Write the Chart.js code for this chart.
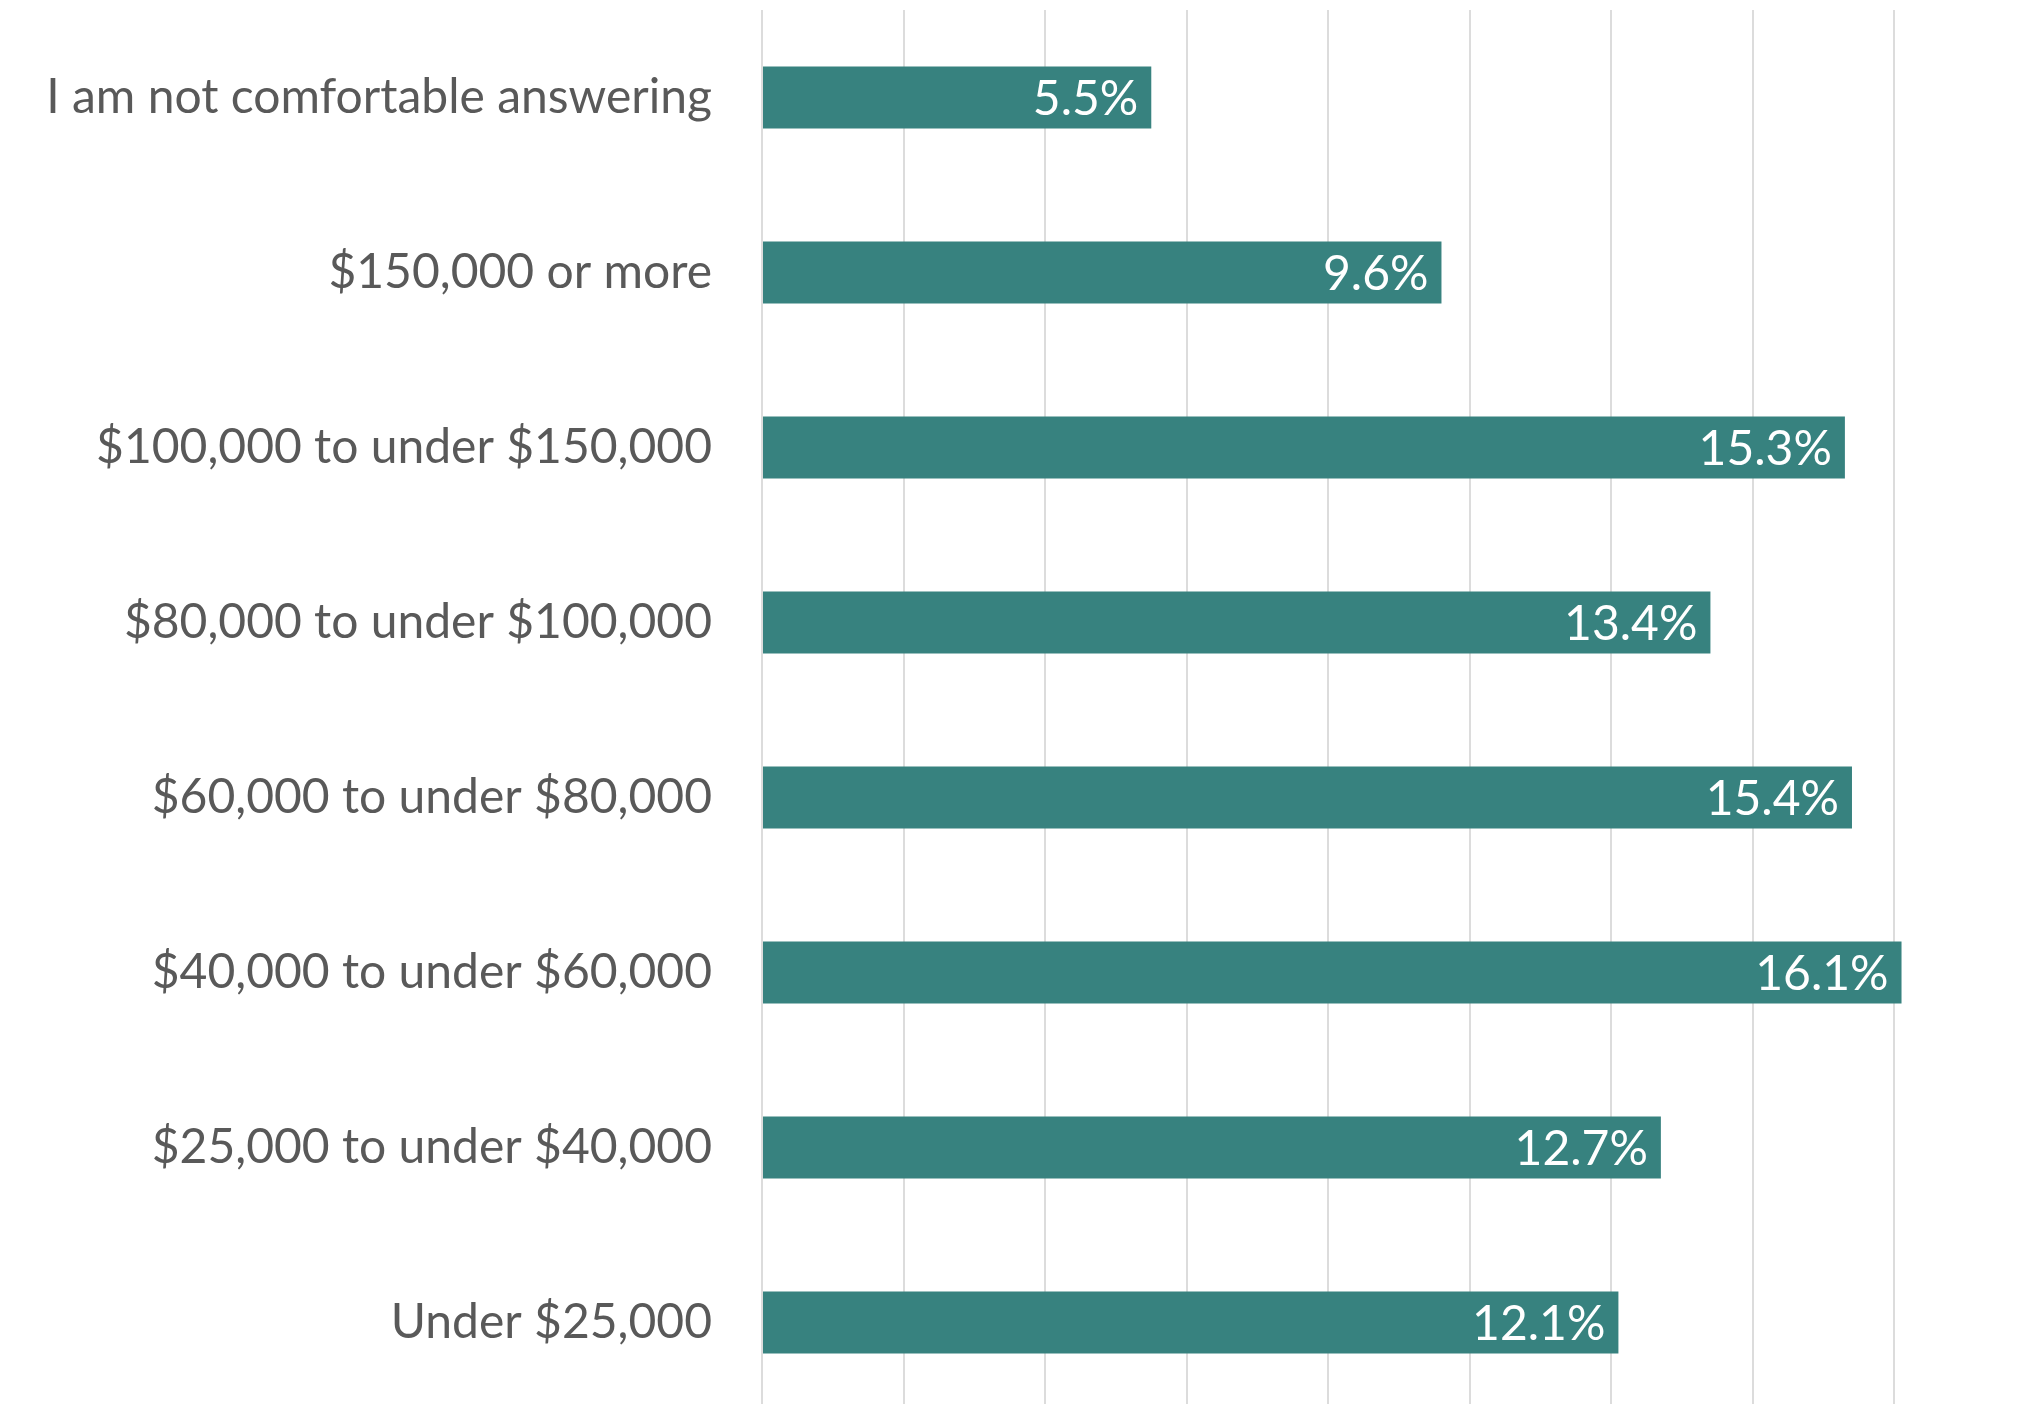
<!DOCTYPE html>
<html>
<head>
<meta charset="utf-8">
<title>Household income</title>
<script src="https://cdn.jsdelivr.net/npm/chart.js@4/dist/chart.umd.min.js"></script>
<style>
    html, body { margin: 0; padding: 0; background: #fff; overflow: hidden; }
    #wrap { position: absolute; left: 0; top: 0; }
</style>
</head>
<body>
<div id="wrap"><canvas id="incomeChart" width="2036" height="1410"></canvas></div>
<script>
    const categories = [
        'I am not comfortable answering',
        '$150,000 or more',
        '$100,000 to under $150,000',
        '$80,000 to under $100,000',
        '$60,000 to under $80,000',
        '$40,000 to under $60,000',
        '$25,000 to under $40,000',
        'Under $25,000'
    ];
    const shares = [5.5, 9.6, 15.3, 13.4, 15.4, 16.1, 12.7, 12.1];
    const axisMax = 18;
    const axisStep = 2;

    const barColor = '#37827F';
    const labelFont = 'Lato, "Open Sans", sans-serif';

    // writes the percentage inside the end of each bar
    const valueLabels = {
        id: 'valueLabels',
        afterDatasetsDraw(chart) {
            const ctx = chart.ctx;
            const meta = chart.getDatasetMeta(0);
            ctx.save();
            ctx.fillStyle = '#ffffff';
            ctx.font = '48px ' + labelFont;
            ctx.textAlign = 'right';
            ctx.textBaseline = 'middle';
            meta.data.forEach((bar, i) => {
                ctx.fillText(shares[i].toFixed(1) + '%', bar.x - 13, bar.y + 2);
            });
            ctx.restore();
        }
    };

    new Chart(document.getElementById('incomeChart'), {
        type: 'bar',
        data: {
            labels: categories,
            datasets: [{
                data: shares,
                backgroundColor: barColor,
                borderWidth: 0,
                barPercentage: 0.355,
                categoryPercentage: 1
            }]
        },
        options: {
            indexAxis: 'y',
            responsive: false,
            animation: false,
            devicePixelRatio: 1,
            layout: { padding: { top: 10, right: 0, bottom: 0, left: 0 } },
            plugins: {
                legend: { display: false },
                tooltip: { enabled: false }
            },
            scales: {
                x: {
                    min: 0,
                    max: axisMax,
                    ticks: { display: false, stepSize: axisStep },
                    grid: { color: '#DCDCDC', lineWidth: 2, drawTicks: false },
                    border: { display: false },
                    afterFit(scale) {
                        scale.height = 0;
                        scale.paddingLeft = 0;
                        scale.paddingRight = 0;
                    }
                },
                y: {
                    ticks: {
                        color: '#595959',
                        padding: 50,
                        font: { family: labelFont, size: 48 }
                    },
                    grid: { display: false, drawTicks: false },
                    border: { display: false },
                    afterFit(scale) {
                        scale.width = 762;
                        scale.paddingTop = 0;
                        scale.paddingBottom = 0;
                    }
                }
            }
        },
        plugins: [valueLabels]
    });
</script>
</body>
</html>
